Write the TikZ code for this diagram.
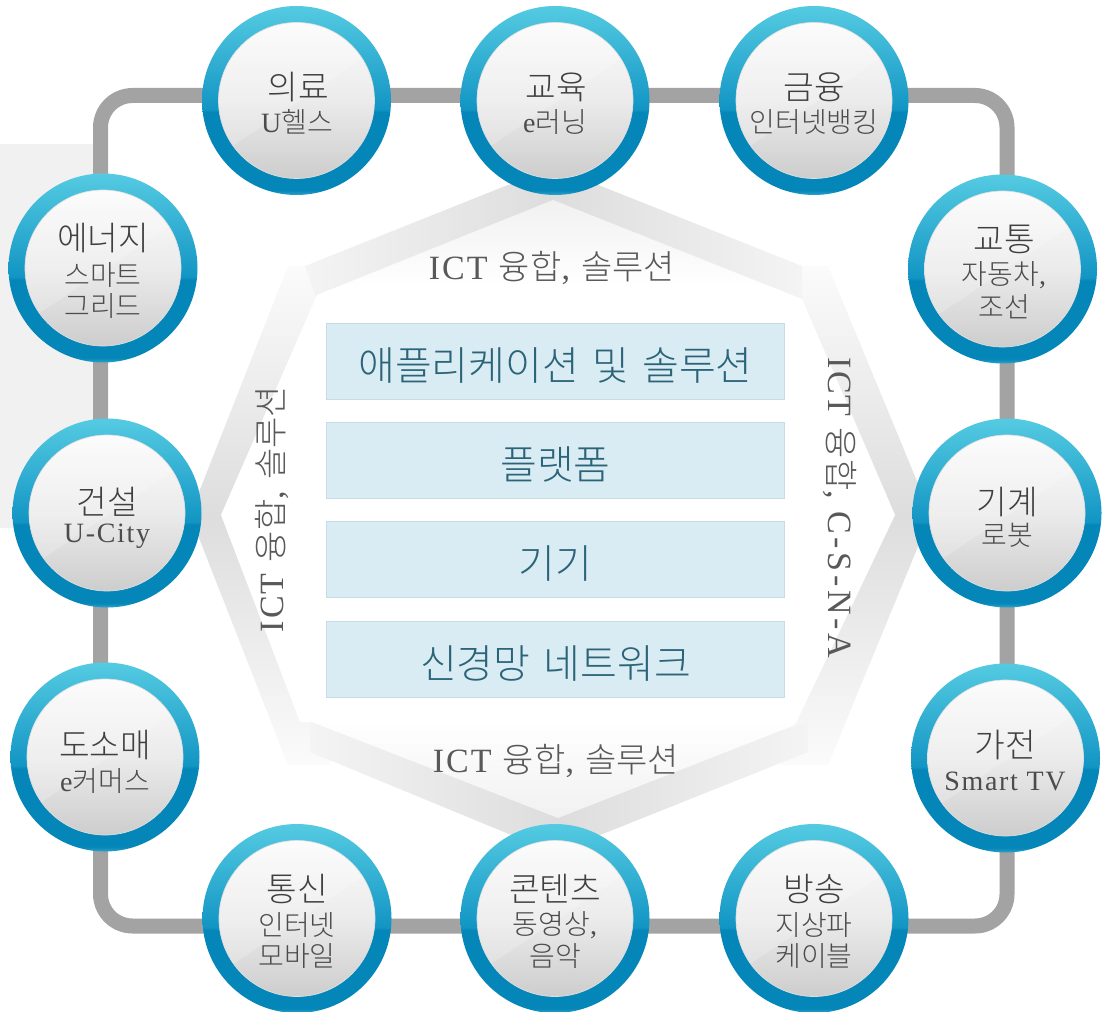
\documentclass[tikz,border=0pt]{standalone}
\usepackage{fontspec}
\usetikzlibrary{backgrounds}
\setmainfont{Noto Sans CJK KR Light}[WordSpace=1.5]
\newfontfamily\lat{Liberation Serif}[LetterSpace=6]
\newfontfamily\latw{Liberation Serif}[LetterSpace=11]
\definecolor{rA}{HTML}{55CBE2}
\definecolor{rB}{HTML}{1295C4}
\definecolor{rC}{HTML}{0487B8}
\definecolor{rD}{HTML}{2FA3CB}
\definecolor{iA}{HTML}{FBFBFB}
\definecolor{iB}{HTML}{EBEBEB}
\definecolor{iC}{HTML}{CDCDCD}
\definecolor{oEdge}{HTML}{F1F1F1}
\definecolor{oWhite}{HTML}{FFFFFF}
\definecolor{bandMid}{HTML}{DDDDDD}
\definecolor{bandEnd}{HTML}{F4F4F4}
\definecolor{flankEnd}{HTML}{FBFBFB}
\definecolor{boxfill}{HTML}{D9ECF3}
\definecolor{boxedge}{HTML}{C6DBE3}
\definecolor{boxtext}{HTML}{2B6478}
\pgfdeclareverticalshading{ringshade}{100bp}{color(0bp)=(rD);color(25bp)=(rD);color(26.2bp)=(rC);color(47bp)=(rC);color(47.6bp)=(rB);color(75bp)=(rA);color(100bp)=(rA)}
\pgfdeclareverticalshading{innershade}{100bp}{color(0bp)=(iC);color(25bp)=(iC);color(50bp)=(iB);color(75bp)=(iA);color(100bp)=(iA)}
\pgfdeclareverticalshading{octshade}{100bp}{color(0bp)=(oEdge);color(25bp)=(oEdge);color(33bp)=(oWhite);color(68bp)=(oWhite);color(75bp)=(oEdge);color(100bp)=(oEdge)}
\tikzset{
  ringnode/.style={circle,inner sep=0pt,minimum size=141.75pt,shading=ringshade},
  innernode/.style={circle,inner sep=0pt,minimum size=117pt,shading=innershade,draw=white!75!gray,line width=.5pt},
  ttl/.style={inner sep=0pt,text=black!75,font=\fontsize{25}{28}\selectfont},
  subt/.style={inner sep=0pt,text=black!70,font=\fontsize{21}{24}\selectfont},
  link/.style={draw=black!36,line width=11.25pt,rounded corners=24pt},
  layerbox/.style={draw=boxedge,line width=.9pt,fill=boxfill,minimum width=343.5pt,minimum height=57pt,inner sep=0pt,text=boxtext,font=\fontsize{30}{33}\selectfont},
  ict/.style={inner sep=0pt,text=black!65,font=\fontsize{25.5}{28}\selectfont},
  flank/.style={top color=flankEnd,bottom color=flankEnd,middle color=bandMid},
  bandshade/.style={left color=bandEnd,right color=bandEnd,middle color=bandMid}
}
\newcommand{\bubble}[3]{%
  \node[ringnode] (#1) at (#2,#3) {};
  \node[innernode] (#1in) at (#2,#3) {};
  \begin{scope}
    \clip (#2,#3) circle [radius=77.5];
    \fill[white,opacity=.2] ({#2-78},{#3+55}) -- ({#2+78},{#3-50}) -- ({#2+78},{#3-78}) -- ({#2-78},{#3-78}) -- cycle;
  \end{scope}
}
\newcommand{\boxtxt}[1]{\raisebox{-3pt}[\height][\depth]{#1}}
\begin{document}
\begin{tikzpicture}[x=.75pt,y=-.75pt]
\useasboundingbox (0,0) rectangle (1105,1012);
\bubble{med}{296.5}{100.5}
\bubble{edu}{555}{100.5}
\bubble{fin}{814}{100.5}
\bubble{ene}{103}{268}
\bubble{tra}{1002.5}{269}
\bubble{con}{107}{513}
\bubble{mac}{1007}{513}
\bubble{ret}{105}{757}
\bubble{app}{1005.5}{758}
\bubble{tel}{297}{918.5}
\bubble{cnt}{555}{918.5}
\bubble{bro}{814}{918.5}
\coordinate (tl) at (100.5,95.5);
\coordinate (tr) at (1007,95.5);
\coordinate (br) at (1007,926);
\coordinate (bl) at (100.5,926);
\begin{pgfonlayer}{background}
  \fill[white] (0,0) rectangle (1105,1012);
  \fill[black!5.5] (0,144) rectangle (93,528);
  \draw[link] (tl |- ene) -- (tl) -- (tl -| med) -- (tl -| edu) -- (tl -| fin) -- (tr) -- (tr |- tra) -- (tr |- mac) -- (tr |- app) -- (br) -- (br -| bro) -- (br -| cnt) -- (br -| tel) -- (bl) -- (bl |- ret) -- (bl |- con) -- cycle;
  \path[flank] (288,266) -- (330,266) -- (330,765) -- (288,765) -- (190,515) -- cycle;
  \path[flank] (790,266) -- (828,266) -- (931,515) -- (828,765) -- (780,765) -- cycle;
  \path[bandshade] (305,266) -- (553,167) -- (802,266) -- (802,300) -- (553,220) -- (317,300) -- cycle;
  \path[bandshade] (310,722) -- (310,752) -- (555,853) -- (808,752) -- (808,722) -- (555,800) -- cycle;
  \path[shading=octshade] (553,200) -- (802,299) -- (895,515) -- (795,725) -- (558,818) -- (312,722) -- (300,722) -- (221,515) -- (317,295) -- cycle;
\end{pgfonlayer}
\node[layerbox] (l1) at (555.5,361.5) {\boxtxt{애플리케이션 및 솔루션}};
\node[layerbox] (l2) at (555.5,460.5) {\boxtxt{플랫폼}};
\node[layerbox] (l3) at (555.5,559.5) {\boxtxt{기기}};
\node[layerbox] (l4) at (555.5,659.5) {\boxtxt{신경망 네트워크}};
\node[ict] (i1) at (552,268) {{\lat ICT} 융합{\lat ,} 솔루션};
\node[ict] (i2) at (556,761) {{\lat ICT} 융합{\lat ,} 솔루션};
\node[ict,rotate=90] (i3) at (272,509) {{\lat ICT} 융합{\lat ,} 솔루션};
\node[ict,rotate=-90] (i4) at (840,508) {{\lat ICT} 융합{\latw , C-S-N-A}};
\node[ttl] (t1) at (298,87) {의료};
\node[subt] (s1) at (297,122) {{\lat U}헬스};
\node[ttl] (t2) at (556,87) {교육};
\node[subt] (s2) at (555,122) {{\lat e}러닝};
\node[ttl] (t3) at (814,87) {금융};
\node[subt] (s3) at (814,122) {인터넷뱅킹};
\node[ttl] (t4) at (103,238) {에너지};
\node[subt] (s4a) at (103,275) {스마트};
\node[subt] (s4b) at (103,306) {그리드};
\node[ttl] (t5) at (1004,239) {교통};
\node[subt] (s5a) at (1004,275) {자동차{\lat ,}};
\node[subt] (s5b) at (1004,307) {조선};
\node[ttl] (t6) at (107,502) {건설};
\node[subt] (s6) at (107,536) {\lat U-City};
\node[ttl] (t7) at (1007,502) {기계};
\node[subt] (s7) at (1007,535) {로봇};
\node[ttl] (t8) at (105,745) {도소매};
\node[subt] (s8) at (105,781) {{\lat e}커머스};
\node[ttl] (t9) at (1005,745) {가전};
\node[subt] (s9) at (1005,781) {\lat Smart TV};
\node[ttl] (t10) at (297,889) {통신};
\node[subt] (s10a) at (297,925) {인터넷};
\node[subt] (s10b) at (297,956) {모바일};
\node[ttl] (t11) at (555,889) {콘텐츠};
\node[subt] (s11a) at (555,925) {동영상{\lat ,}};
\node[subt] (s11b) at (555,956) {음악};
\node[ttl] (t12) at (814,889) {방송};
\node[subt] (s12a) at (814,925) {지상파};
\node[subt] (s12b) at (814,956) {케이블};
\end{tikzpicture}
\end{document}
